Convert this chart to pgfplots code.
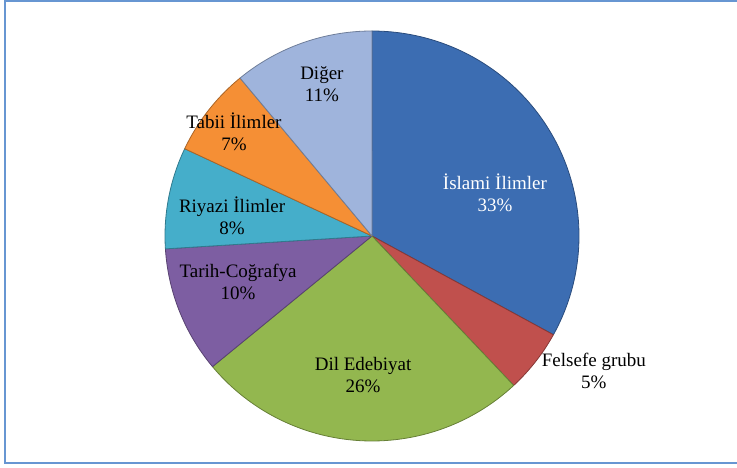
\documentclass[border=0pt]{standalone}
\usepackage{pgfplots}
\pgfplotsset{compat=1.18}
\usepackage{pgfplotstable}
\usepackage{fontspec}
\setmainfont{Liberation Serif}
\definecolor{cIsl}{HTML}{3C6DB2}
\definecolor{cFel}{HTML}{C0504D}
\definecolor{cDil}{HTML}{93B74F}
\definecolor{cTar}{HTML}{7D5EA2}
\definecolor{cRiy}{HTML}{45AECA}
\definecolor{cTab}{HTML}{F58F35}
\definecolor{cDig}{HTML}{9FB4DC}
\definecolor{frame}{HTML}{6796D2}
% slices clockwise from 90 degrees: percent, start angle, end angle
\pgfplotstableread{
name pct start end
Islami 33 90 -28.8
Felsefe 5 -28.8 -46.8
Dil 26 -46.8 -140.4
Tarih 10 -140.4 -176.4
Riyazi 8 -176.4 -205.2
Tabii 7 -205.2 -230.4
Diger 11 -230.4 -270
}\piedata
\newcommand{\slice}[3]{%
  \pgfplotstablegetelem{#1}{start}\of\piedata\edef\sa{\pgfplotsretval}%
  \pgfplotstablegetelem{#1}{end}\of\piedata\edef\ea{\pgfplotsretval}%
  \addplot[fill=#2, draw=#3, line width=0.8pt, line join=round, domain=\sa:\ea, samples=90, variable=\t]
    ({cos(\t)},{sin(\t)}) -- (axis cs:0,0) -- cycle;
}
\begin{document}
\begin{tikzpicture}
\useasboundingbox (0pt,0pt) rectangle (737pt,468pt);
\begin{scope}
\clip (0pt,0pt) rectangle (737pt,468pt);
\draw[frame, line width=2.6pt] (5pt,5pt) rectangle (760pt,467pt);
\end{scope}
\begin{axis}[
  scale only axis, width=414pt, height=410pt,
  xmin=-1, xmax=1, ymin=-1, ymax=1,
  hide axis, clip=false,
  at={(372pt,232pt)}, anchor=center,
]
\slice{0}{cIsl}{cIsl!70!black}
\slice{1}{cFel}{cFel!70!black}
\slice{2}{cDil}{cDil!70!black}
\slice{3}{cTar}{cTar!70!black}
\slice{4}{cRiy}{cRiy!70!black}
\slice{5}{cTab}{cTab!70!black}
\slice{6}{cDig}{cDig!70!black}
\tikzset{lbl/.style={align=center, font=\fontsize{19}{22}\selectfont, inner sep=0pt}}
\node[lbl, text=white] at (axis cs:0.594,0.213) {İslami İlimler\\33\%};
\node[lbl] at (axis cs:1.072,-0.657) {Felsefe grubu\\5\%};
\node[lbl] at (axis cs:-0.043,-0.676) {Dil Edebiyat\\26\%};
\node[lbl] at (axis cs:-0.647,-0.222) {Tarih-Coğrafya\\10\%};
\node[lbl] at (axis cs:-0.676,0.097) {Riyazi İlimler\\8\%};
\node[lbl] at (axis cs:-0.667,0.507) {Tabii İlimler\\7\%};
\node[lbl] at (axis cs:-0.242,0.739) {Diğer\\11\%};
\end{axis}
\end{tikzpicture}
\end{document}
